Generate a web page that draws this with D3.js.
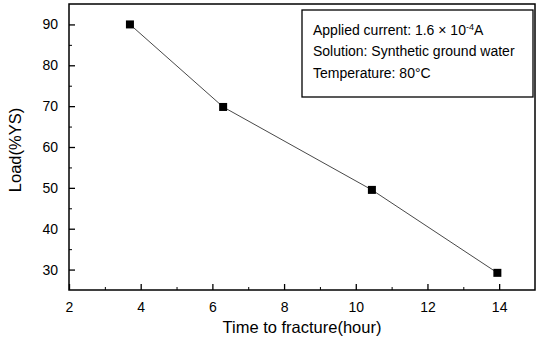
<!DOCTYPE html>
<html><head><meta charset="utf-8">
<script src="https://cdn.jsdelivr.net/npm/d3@7"></script>
<style>body{margin:0;background:#fff}svg{display:block;font-family:"Liberation Sans",Arial,sans-serif}</style>
</head><body>
<script>
const timeHours = [3.7, 6.3, 10.45, 13.95];
const loadPct = [90, 69.8, 49.5, 29.2];
const xTicks = [2, 4, 6, 8, 10, 12, 14];
const yTicks = [30, 40, 50, 60, 70, 80, 90];
const xMinor = [3, 5, 7, 9, 11, 13];
const yMinor = [35, 45, 55, 65, 75, 85];
const legendLines = ["Applied current: 1.6 × 10", "Solution: Synthetic ground water", "Temperature: 80°C"];

const W = 536, H = 346;
const m = {l: 69, r: 1, t: 4, b: 56};
const svg = d3.select("body").append("svg").attr("width", W).attr("height", H);
const x = d3.scaleLinear().domain([2, 15]).range([m.l, W - m.r]);
const y = d3.scaleLinear().domain([25, 95]).range([H - m.b, m.t]);

// frame
svg.append("rect").attr("x", m.l).attr("y", m.t).attr("width", W - m.r - m.l).attr("height", H - m.b - m.t)
  .attr("fill", "none").attr("stroke", "#000").attr("stroke-width", 1.5);

// x axis
const xa = svg.append("g").attr("transform", `translate(0,${H - m.b})`)
  .call(d3.axisBottom(x).tickValues(xTicks).tickSize(-6).tickPadding(12).tickFormat(d3.format("d")));
xa.select(".domain").remove();
xa.selectAll("text").attr("font-size", 14).attr("font-family", "Liberation Sans, Arial, sans-serif").attr("fill", "#000");
xa.selectAll("line").attr("stroke-width", 1.3);
const xm = svg.append("g").attr("transform", `translate(0,${H - m.b})`)
  .call(d3.axisBottom(x).tickValues(xMinor).tickSize(-3).tickFormat(""));
xm.select(".domain").remove();

// y axis
const ya = svg.append("g").attr("transform", `translate(${m.l},0)`)
  .call(d3.axisLeft(y).tickValues(yTicks).tickSize(-6).tickPadding(11).tickFormat(d3.format("d")));
ya.select(".domain").remove();
ya.selectAll("text").attr("font-size", 14).attr("font-family", "Liberation Sans, Arial, sans-serif").attr("fill", "#000");
ya.selectAll("line").attr("stroke-width", 1.3);
const ym = svg.append("g").attr("transform", `translate(${m.l},0)`)
  .call(d3.axisLeft(y).tickValues(yMinor).tickSize(-3).tickFormat(""));
ym.select(".domain").remove();

// line + markers
const pts = timeHours.map((t, i) => [t, loadPct[i]]);
svg.append("path").datum(pts)
  .attr("d", d3.line().x(d => x(d[0])).y(d => y(d[1])))
  .attr("fill", "none").attr("stroke", "#333").attr("stroke-width", 0.9);
svg.selectAll("rect.pt").data(pts).join("rect").attr("class", "pt")
  .attr("x", d => x(d[0]) - 4).attr("y", d => y(d[1]) - 4).attr("width", 8).attr("height", 8).attr("fill", "#000");

// legend box
svg.append("rect").attr("x", 302).attr("y", 10).attr("width", 231).attr("height", 87)
  .attr("fill", "#fff").attr("stroke", "#000").attr("stroke-width", 1.3);
const lg = svg.append("g").attr("font-size", 14).attr("fill", "#000");
const t0 = lg.append("text").attr("x", 313).attr("y", 35).text(legendLines[0]);
t0.append("tspan").attr("dy", -5).attr("font-size", 9).text("-4");
t0.append("tspan").attr("dy", 5).text("A");
lg.append("text").attr("x", 313).attr("y", 56).text(legendLines[1]);
lg.append("text").attr("x", 313).attr("y", 78).text(legendLines[2]);

// axis titles
svg.append("text").attr("x", 302).attr("y", 333).attr("text-anchor", "middle")
  .attr("font-size", 16.5).text("Time to fracture(hour)");
svg.append("text").attr("transform", `translate(21,${y(60) + 3}) rotate(-90)`).attr("text-anchor", "middle")
  .attr("font-size", 16.5).text("Load(%YS)");
</script>
</body></html>
